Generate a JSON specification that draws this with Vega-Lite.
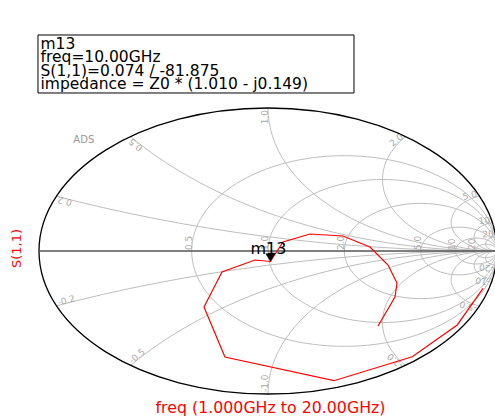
{
  "$schema": "https://vega.github.io/schema/vega-lite/v6.json",
  "width": 456,
  "height": 286,
  "autosize": {"type": "none"},
  "padding": {"left": 39, "top": 108, "right": 0, "bottom": 22},
  "background": "white",
  "config": {"view": {"stroke": null}},
  "datasets": {
    "xc": [
      {"u": 1, "v": 5, "rad": 5}, {"u": 1, "v": 2, "rad": 2}, {"u": 1, "v": 1, "rad": 1},
      {"u": 1, "v": 0.5, "rad": 0.5}, {"u": 1, "v": 0.2, "rad": 0.2}, {"u": 1, "v": 0.1, "rad": 0.1},
      {"u": 1, "v": 0.05, "rad": 0.05},
      {"u": 1, "v": -5, "rad": 5}, {"u": 1, "v": -2, "rad": 2}, {"u": 1, "v": -1, "rad": 1},
      {"u": 1, "v": -0.5, "rad": 0.5}, {"u": 1, "v": -0.2, "rad": 0.2}, {"u": 1, "v": -0.1, "rad": 0.1},
      {"u": 1, "v": -0.05, "rad": 0.05}
    ],
    "mask": [{"u": 0, "v": 0, "rad": 1}],
    "rc": [
      {"u": 0.33333, "v": 0, "rad": 0.66667}, {"u": 0.5, "v": 0, "rad": 0.5},
      {"u": 0.66667, "v": 0, "rad": 0.33333}, {"u": 0.83333, "v": 0, "rad": 0.16667},
      {"u": 0.90909, "v": 0, "rad": 0.09091}, {"u": 0.95238, "v": 0, "rad": 0.04762}
    ],
    "outer": [{"u": 0, "v": 0, "rad": 1}],
    "realaxis": [{"u": -1, "v": 0}, {"u": 1, "v": 0}],
    "trace": [
      {"f": 1, "u": 0.939, "v": -0.262}, {"f": 2, "u": 0.8265, "v": -0.5172},
      {"f": 3, "u": 0.63, "v": -0.74}, {"f": 4, "u": 0.288, "v": -0.907},
      {"f": 5, "u": -0.188, "v": -0.741}, {"f": 6, "u": -0.2795, "v": -0.3916},
      {"f": 7, "u": -0.2009, "v": -0.1469}, {"f": 8, "u": -0.0568, "v": -0.0629},
      {"f": 10, "u": 0.01047, "v": -0.07326}, {"f": 11, "u": 0.0655, "v": 0.0629},
      {"f": 12, "u": 0.1834, "v": 0.1189}, {"f": 13, "u": 0.3275, "v": 0.1049},
      {"f": 14, "u": 0.4454, "v": 0.028}, {"f": 15, "u": 0.524, "v": -0.0979},
      {"f": 16, "u": 0.5633, "v": -0.2238}, {"f": 17, "u": 0.5546, "v": -0.3217},
      {"f": 20, "u": 0.4803, "v": -0.5245}
    ],
    "marker": [{"u": 0.01047, "v": -0.07326, "t": "m13"}],
    "rlab": [
      {"u": -0.33333, "v": 0, "t": "0.5"}, {"u": 0, "v": 0, "t": "1.0"},
      {"u": 0.33333, "v": 0, "t": "2.0"}, {"u": 0.66667, "v": 0, "t": "5.0"},
      {"u": 0.81818, "v": 0, "t": "10"}, {"u": 0.90476, "v": 0, "t": "20"}
    ],
    "xlabU": [
      {"u": -0.92308, "v": 0.38462, "t": "0.2", "a": 194.58},
      {"u": -0.6, "v": 0.8, "t": "0.5", "a": 219.78},
      {"u": 0, "v": 1, "t": "1.0", "a": 270},
      {"u": 0.6, "v": 0.8, "t": "2.0", "a": 320.22},
      {"u": 0.92308, "v": 0.38462, "t": "5.0", "a": 345.42},
      {"u": 0.980198, "v": 0.19802, "t": "10", "a": 352.81},
      {"u": 0.995012, "v": 0.099751, "t": "20", "a": 356.42}
    ],
    "xlabL": [
      {"u": -0.92308, "v": -0.38462, "t": "-0.2", "a": 345.42},
      {"u": -0.6, "v": -0.8, "t": "-0.5", "a": 320.22},
      {"u": 0, "v": -1, "t": "-1.0", "a": 270},
      {"u": 0.6, "v": -0.8, "t": "-2.0", "a": 219.78},
      {"u": 0.92308, "v": -0.38462, "t": "-5.0", "a": 194.58},
      {"u": 0.980198, "v": -0.19802, "t": "-10", "a": 187.19},
      {"u": 0.995012, "v": -0.099751, "t": "-20", "a": 183.58}
    ],
    "box": [{"u": -1.0044, "u2": 0.3755, "v": 1.5105, "v2": 1.1049}],
    "boxtext": [
      {"u": -0.9934, "v": 1.4126, "t": "m13"},
      {"u": -0.9934, "v": 1.3182, "t": "freq=10.00GHz"},
      {"u": -0.9934, "v": 1.2217, "t": "S(1,1)=0.074 / -81.875"},
      {"u": -0.9934, "v": 1.1294, "t": "impedance = Z0 * (1.010 - j0.149)"}
    ],
    "ads": [{"u": -0.85, "v": 0.755, "t": "ADS"}]
  },
  "encoding": {
    "x": {
      "field": "u", "type": "quantitative",
      "scale": {"domain": [-1, 1], "range": [0, 458], "nice": false, "zero": false},
      "axis": {
        "title": "freq (1.000GHz to 20.00GHz)", "labels": false, "ticks": false, "domain": false, "grid": false,
        "titleColor": "#ff0000", "titleFont": "DejaVu Sans", "titleFontSize": 15.8, "titleFontWeight": "normal",
        "titlePadding": 6, "titleX": 231, "zindex": 1
      }
    },
    "y": {
      "field": "v", "type": "quantitative",
      "scale": {"domain": [-1, 1], "nice": false, "zero": false},
      "axis": {
        "title": "S(1,1)", "labels": false, "ticks": false, "domain": false, "grid": false,
        "titleColor": "#ff0000", "titleFont": "DejaVu Sans", "titleFontSize": 13, "titleFontWeight": "normal",
        "titlePadding": 16, "titleY": 140, "zindex": 1
      }
    }
  },
  "layer": [
    {
      "data": {"name": "xc"},
      "mark": {"type": "point", "shape": "M-1,0A1,0.6245 0 1,0 1,0A1,0.6245 0 1,0 -1,0Z", "filled": false, "stroke": "#bebebe", "strokeWidth": 1, "opacity": 1},
      "encoding": {"size": {"field": "rad", "type": "quantitative", "scale": {"type": "pow", "exponent": 2, "domain": [0, 1], "range": [0, 209764]}, "legend": null}}
    },
    {
      "data": {"name": "mask"},
      "mark": {"type": "point", "shape": "M-3,-3H3V3H-3Z M-1,0A1,0.6245 0 1,0 1,0A1,0.6245 0 1,0 -1,0Z", "filled": true, "fill": "white", "strokeWidth": 0, "opacity": 1},
      "encoding": {"size": {"field": "rad", "type": "quantitative", "scale": {"type": "pow", "exponent": 2, "domain": [0, 1], "range": [0, 209764]}, "legend": null}}
    },
    {
      "data": {"name": "rc"},
      "mark": {"type": "point", "shape": "M-1,0A1,0.6245 0 1,0 1,0A1,0.6245 0 1,0 -1,0Z", "filled": false, "stroke": "#bebebe", "strokeWidth": 1, "opacity": 1},
      "encoding": {"size": {"field": "rad", "type": "quantitative", "scale": {"type": "pow", "exponent": 2, "domain": [0, 1], "range": [0, 209764]}, "legend": null}}
    },
    {
      "data": {"name": "outer"},
      "mark": {"type": "point", "shape": "M-1,0A1,0.6245 0 1,0 1,0A1,0.6245 0 1,0 -1,0Z", "filled": false, "stroke": "#000000", "strokeWidth": 1.3, "opacity": 1},
      "encoding": {"size": {"field": "rad", "type": "quantitative", "scale": {"type": "pow", "exponent": 2, "domain": [0, 1], "range": [0, 209764]}, "legend": null}}
    },
    {
      "data": {"name": "realaxis"},
      "mark": {"type": "line", "color": "#555555", "strokeWidth": 1.3},
      "encoding": {}
    },
    {
      "data": {"name": "rlab"},
      "mark": {"type": "text", "angle": 270, "align": "left", "baseline": "alphabetic", "dx": 1, "font": "DejaVu Sans", "fontSize": 9, "color": "#aaaaaa"},
      "encoding": {"text": {"field": "t"}}
    },
    {
      "data": {"name": "xlabU"},
      "mark": {"type": "text", "align": "right", "baseline": "alphabetic", "dx": -2, "font": "DejaVu Sans", "fontSize": 9, "color": "#aaaaaa"},
      "encoding": {"text": {"field": "t"}, "angle": {"field": "a", "type": "quantitative", "scale": {"domain": [0, 360], "range": [0, 360]}}}
    },
    {
      "data": {"name": "xlabL"},
      "mark": {"type": "text", "align": "left", "baseline": "alphabetic", "dx": 2, "font": "DejaVu Sans", "fontSize": 9, "color": "#aaaaaa"},
      "encoding": {"text": {"field": "t"}, "angle": {"field": "a", "type": "quantitative", "scale": {"domain": [0, 360], "range": [0, 360]}}}
    },
    {
      "data": {"name": "ads"},
      "mark": {"type": "text", "align": "left", "baseline": "alphabetic", "font": "DejaVu Sans", "fontSize": 10, "color": "#999999"},
      "encoding": {"text": {"field": "t"}}
    },
    {
      "data": {"name": "trace"},
      "mark": {"type": "line", "color": "#ff0000", "strokeWidth": 1.2},
      "encoding": {"order": {"field": "f", "type": "quantitative"}}
    },
    {
      "data": {"name": "marker"},
      "mark": {"type": "point", "shape": "M0,0L-1,-1.6L1,-1.6Z", "size": 100, "filled": true, "color": "#000000", "opacity": 1}
    },
    {
      "data": {"name": "marker"},
      "mark": {"type": "text", "align": "center", "baseline": "alphabetic", "dx": -2, "dy": -7, "font": "DejaVu Sans", "fontSize": 16, "color": "#000000"},
      "encoding": {"text": {"field": "t"}}
    },
    {
      "data": {"name": "box"},
      "mark": {"type": "rect", "fill": "white", "stroke": "#000000", "strokeWidth": 1},
      "encoding": {"x2": {"field": "u2"}, "y2": {"field": "v2"}}
    },
    {
      "data": {"name": "boxtext"},
      "mark": {"type": "text", "align": "left", "baseline": "alphabetic", "font": "DejaVu Sans", "fontSize": 15.5, "color": "#000000"},
      "encoding": {"text": {"field": "t"}}
    }
  ]
}
